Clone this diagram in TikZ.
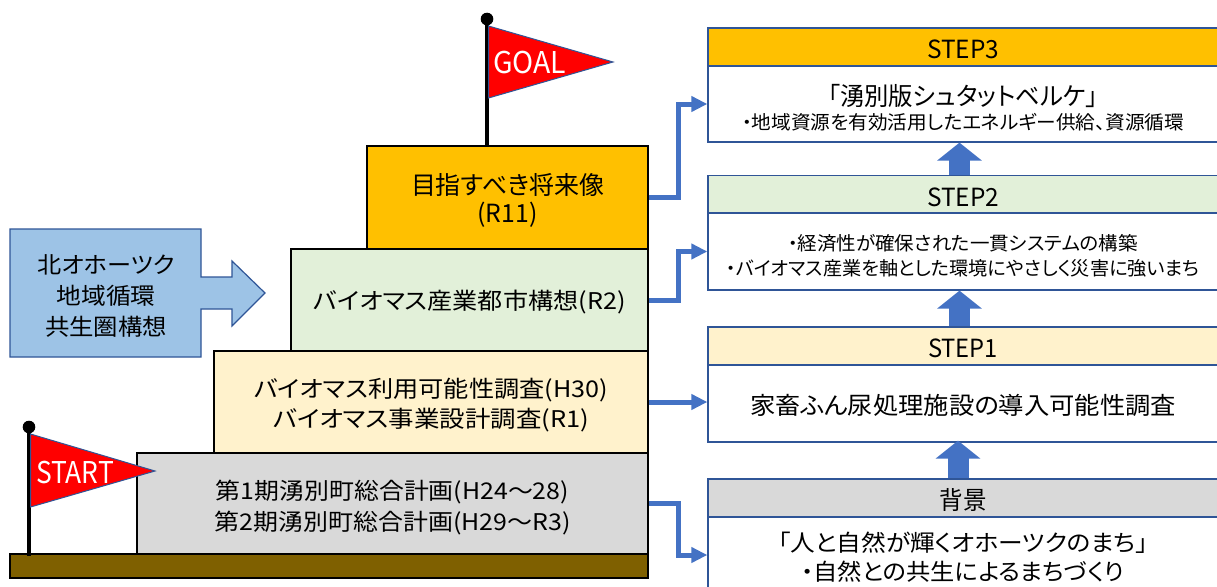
\documentclass[tikz,border=0pt]{standalone}
\usepackage{fontspec}
\usepackage{graphicx}
\setmainfont{Noto Sans CJK JP}[RawFeature=+palt]
\usetikzlibrary{arrows.meta,calc}
\definecolor{cblue}{HTML}{4472C4}
\definecolor{cdark}{HTML}{2F5597}
\definecolor{cgray}{HTML}{D9D9D9}
\definecolor{ccream}{HTML}{FFF2CC}
\definecolor{cgreen}{HTML}{E2F0D9}
\definecolor{corange}{HTML}{FFC000}
\definecolor{cbrown}{HTML}{7F6000}
\definecolor{clight}{HTML}{9DC3E6}
\newcommand\tl[3][0]{\raisebox{-#1pt}[\height][\depth]{\resizebox{#2pt}{\height}{#3}}}
\tikzset{
  stair/.style={draw=black,line width=1.2pt,inner sep=0pt,align=center,font=\fontsize{23}{30.5}\selectfont},
  head/.style={draw=cdark,line width=1.3pt,inner sep=0pt,minimum width=510pt,minimum height=38pt,font=\fontsize{25}{28}\selectfont},
  body/.style={draw=cdark,line width=1.3pt,fill=white,inner sep=0pt,minimum width=510pt,align=center},
  link/.style={draw=cblue,line width=5pt,-{Triangle[length=16pt,width=15pt]}},
  upflow/.style={draw=cblue,line width=21pt,-{Triangle[length=18pt,width=44pt]}},
  pole/.style={draw=black,line width=3.6pt},
  ball/.style={circle,fill=black,inner sep=0pt,minimum size=12.6pt},
  pennant/.style={draw=cdark,line width=1pt,fill=red},
  flagtext/.style={text=white,inner sep=0pt,font=\fontsize{30}{34}\selectfont},
  plain/.style={inner sep=0pt,align=center,font=\fontsize{23}{31}\selectfont}
}
\begin{document}
\begin{tikzpicture}[x=1pt,y=-1pt]
\useasboundingbox (0,0) rectangle (1217,586);
\fill[white] (0,0) rectangle (1217,586);
\clip (0,0) rectangle (1217,586);

% staircase
\node[stair,fill=cgray,minimum width=511pt,minimum height=101pt] (s1) at (392.5,503.5)
  {\tl[4]{353}{第1期湧別町総合計画(H24～28)}\\\tl[4]{356}{第2期湧別町総合計画(H29～R3)}};
\node[stair,fill=ccream,minimum width=434pt,minimum height=102pt] (s2) at (431,402)
  {\tl[3.5]{354}{バイオマス利用可能性調査(H30)}\\\tl[3]{316}{バイオマス事業設計調査(R1)}};
\node[stair,fill=cgreen,minimum width=357pt,minimum height=102pt] (s3) at (469.5,300)
  {\tl[2]{312}{バイオマス産業都市構想(R2)}};
\node[stair,fill=corange,minimum width=281pt,minimum height=103pt,font=\fontsize{25}{29}\selectfont] (s4) at (507.5,197.5)
  {\tl[3.5]{193}{目指すべき将来像}\\\tl[2]{60}{(R11)}};
\node[draw=black,line width=1.2pt,fill=cbrown,minimum width=638pt,minimum height=24pt,inner sep=0pt] (ground) at (329,566) {};

% left block arrow
\draw[draw=cdark,line width=1.2pt,fill=clight] (10,229)--(201,229)--(201,277)--(232,277)--(232,261)--(265,293)--(232,326)--(232,309)--(201,309)--(201,357)--(10,357)--cycle;
\node[plain] (region) at (106,296) {\tl{137}{北オホーツク}\\\tl{99}{地域循環}\\\tl{122}{共生圏構想}};

% right column
\node[head,fill=corange] (h3) at (963,47) {\tl[2]{72}{STEP3}};
\node[body,minimum height=76pt,font=\fontsize{18}{27}\selectfont] (b3) at (963,104)
  {\fontsize{25}{27}\selectfont\tl[5]{270}{「湧別版シュタットベルケ」}\\\fontsize{19}{27}\selectfont\tl[2]{442}{・地域資源を有効活用したエネルギー供給、資源循環}};
\node[head,fill=cgreen] (h2) at (963,194.5) {\tl[2.5]{72}{STEP2}};
\node[body,minimum height=77pt,font=\fontsize{19}{25}\selectfont] (b2) at (963,251.5)
  {\tl[4]{350}{・経済性が確保された一貫システムの構築}\\\tl[4]{473}{・バイオマス産業を軸とした環境にやさしく災害に強いまち}};
\node[head,fill=ccream] (h1) at (963,346) {\tl[2]{70}{STEP1}};
\node[body,minimum height=77pt,font=\fontsize{24}{27}\selectfont] (b1) at (963,403.5)
  {\tl[2]{426}{家畜ふん尿処理施設の導入可能性調査}};
\node[head,fill=cgray] (h0) at (963,498) {\tl[2]{47}{背景}};
\node[body,minimum height=76pt,font=\fontsize{23}{30}\selectfont] (b0) at (963,555)
  {\tl[3]{370}{「人と自然が輝くオホーツクのまち」}\\\tl[2]{323}{・自然との共生によるまちづくり}};

% connectors
\draw[link] (s4.east) -- ++(30,0) |- (b3.west);
\draw[link] (s3.east) -- ++(30,0) |- (b2.west);
\draw[link] (s2.east) -- (s2.east -| b1.west);
\draw[link] (s1.east) -- ++(30,0) |- (b0.west);

\draw[upflow] ([xshift=-3.5pt]h2.north) -- ([xshift=-3.5pt]b3.south);
\draw[upflow] ([xshift=-3.5pt]h1.north) -- ([xshift=-3.5pt]b2.south);
\draw[upflow] ([xshift=-5pt]h0.north) -- ([xshift=-5pt,yshift=2pt]b1.south);

% flags
\node[ball] (gball) at (487,19) {};
\draw[pole] (gball.center) -- (gball.center |- s4.north);
\draw[pennant] (488.5,26)--(613,62)--(488.5,98)--cycle;
\node[flagtext] (goal) at (529.5,63) {\tl{73}{GOAL}};

\node[ball] (sball) at (29,427) {};
\draw[pole] (sball.center) -- (29,556);
\draw[pennant] (30.5,434)--(155,471)--(30.5,507)--cycle;
\node[flagtext] (start) at (75,472) {\tl{78}{START}};
\end{tikzpicture}
\end{document}
